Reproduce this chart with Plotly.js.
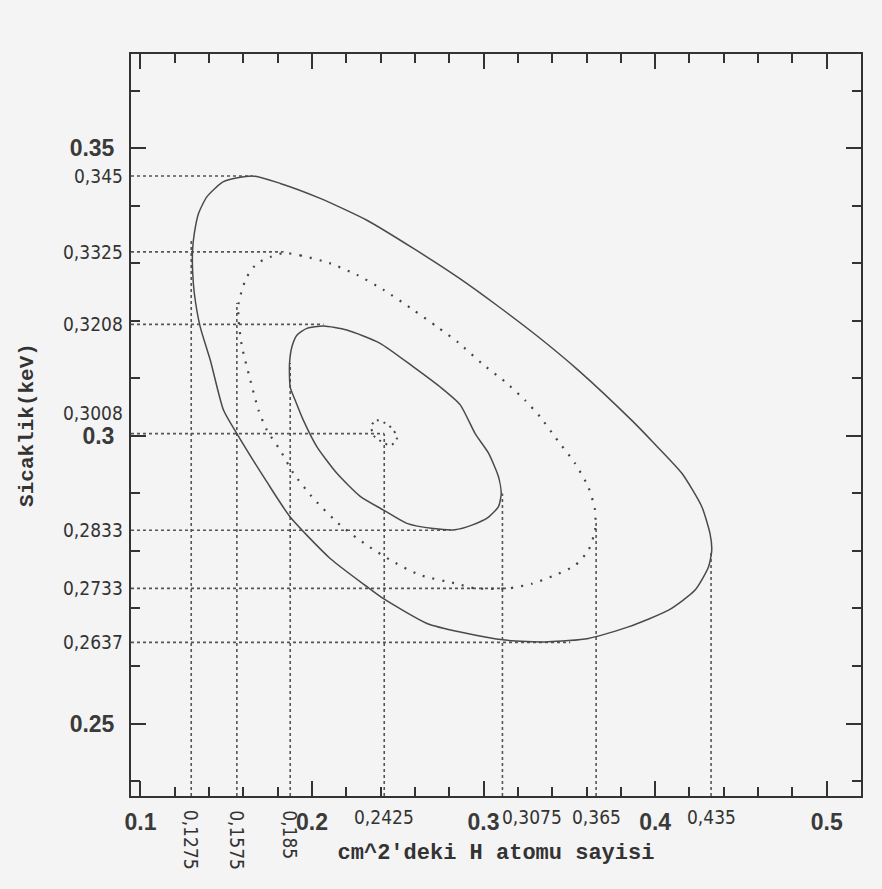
<!DOCTYPE html>
<html>
<head>
<meta charset="utf-8">
<script src="https://cdn.plot.ly/plotly-3.0.1.min.js"></script>
<style>html,body{margin:0;padding:0;background:#f4f4f4;}#chart{width:882px;height:889px;}</style>
</head>
<body>
<div id="chart"></div>
<script>
// ---- Data ----
// Outer (solid) contour
const outerX = [0.1652,0.1815,0.2048,0.2320,0.2591,0.2864,0.3087,0.3320,0.3553,0.3864,0.3988,0.4156,0.4272,0.4320,0.4330,0.4311,0.4233,0.4078,0.3844,0.3611,0.3378,0.3126,0.2864,0.2670,0.2417,0.2320,0.2106,0.1873,0.1737,0.1562,0.1484,0.1407,0.1348,0.1314,0.1304,0.1304,0.1314,0.1339,0.1388,0.1484,0.1652];
const outerY = [0.3452,0.3439,0.3413,0.3375,0.3326,0.3273,0.3225,0.3172,0.3114,0.3027,0.2989,0.2935,0.2877,0.2830,0.2801,0.2772,0.2732,0.2697,0.2668,0.2648,0.2642,0.2645,0.2659,0.2674,0.2717,0.2738,0.2787,0.2859,0.2920,0.3004,0.3045,0.3132,0.3190,0.3248,0.3288,0.3323,0.3352,0.3387,0.3416,0.3442,0.3452];
// Middle (dotted) contour
const middleX = [0.1834,0.1931,0.2106,0.2262,0.2417,0.2591,0.2728,0.2854,0.2990,0.3126,0.3242,0.3330,0.3417,0.3534,0.3611,0.3650,0.3650,0.3611,0.3534,0.3417,0.3281,0.3145,0.2951,0.2844,0.2631,0.2475,0.2320,0.2164,0.2009,0.1892,0.1815,0.1737,0.1688,0.1630,0.1592,0.1572,0.1572,0.1592,0.1621,0.1679,0.1756,0.1834];
const middleY = [0.3318,0.3314,0.3300,0.3280,0.3254,0.3219,0.3190,0.3162,0.3126,0.3094,0.3062,0.3033,0.2998,0.2952,0.2911,0.2871,0.2836,0.2801,0.2775,0.2758,0.2743,0.2735,0.2735,0.2743,0.2758,0.2781,0.2810,0.2845,0.2891,0.2935,0.2975,0.3010,0.3045,0.3109,0.3155,0.3201,0.3230,0.3254,0.3277,0.3300,0.3311,0.3318];
// Inner (solid) contour
const innerX = [0.2067,0.2203,0.2397,0.2591,0.2747,0.2864,0.2951,0.3029,0.3087,0.3103,0.3087,0.3029,0.2932,0.2834,0.2708,0.2553,0.2417,0.2281,0.2145,0.2029,0.1950,0.1902,0.1873,0.1869,0.1883,0.1912,0.1970,0.2067];
const innerY = [0.3191,0.3184,0.3161,0.3120,0.3085,0.3054,0.3004,0.2970,0.2929,0.2900,0.2877,0.2859,0.2845,0.2837,0.2839,0.2848,0.2871,0.2895,0.2935,0.2981,0.3027,0.3062,0.3085,0.3126,0.3155,0.3175,0.3187,0.3191];
// Best-fit point (small dotted ring)
const bestX = [0.2349,0.2378,0.2421,0.2466,0.2495,0.2460,0.2407,0.2359,0.2349];
const bestY = [0.3019,0.3027,0.3023,0.3013,0.2996,0.2984,0.2990,0.3001,0.3019];

// Horizontal reference lines: y value, where they end on the right, label text
const hLineY    = [0.3452,0.3320,0.3194,0.3004,0.2836,0.2735,0.2641];
const hLineEndX = [0.1652,0.1834,0.2067,0.2421,0.2806,0.3145,0.3505];
const hLineText = ['0,345','0,3325','0,3208','0,3008','0,2833','0,2733','0,2637'];
// Vertical reference lines: x value, where they end at the top, label text
const vLineX    = [0.1296,0.1562,0.1873,0.2421,0.3110,0.3656,0.4326];
const vLineEndY = [0.3341,0.3231,0.3127,0.3004,0.2900,0.2854,0.2801];
const vLineText = ['0,1275','0,1575','0,185','0,2425','0,3075','0,365','0,435'];
const vLineRot  = [true,true,true,false,false,false,false];

// Axis ranges and ticks
const xRange = [0.0945, 0.5200];
const yRange = [0.2374, 0.3664];
const xMajor = [0.1,0.2,0.3,0.4,0.5];
const yMajor = [0.25,0.3,0.35];

// ---- Build traces ----
const hx = [], hy = [];
hLineY.forEach((y,i)=>{ hx.push(xRange[0], hLineEndX[i], null); hy.push(y, y, null); });
const vx = [], vy = [];
vLineX.forEach((x,i)=>{ vx.push(x, x, null); vy.push(yRange[0], vLineEndY[i], null); });

const lineCol = '#4a4a4a';
const sm = 0.6;
const traces = [
  {x:hx, y:hy, mode:'lines', line:{color:'#555', width:1.6, dash:'dot'}, hoverinfo:'skip'},
  {x:vx, y:vy, mode:'lines', line:{color:'#555', width:1.6, dash:'dot'}, hoverinfo:'skip'},
  {x:outerX, y:outerY, mode:'lines', line:{color:lineCol, width:1.5, shape:'spline', smoothing:sm}},
  {x:middleX, y:middleY, mode:'lines', line:{color:'#444', width:2.2, dash:'2px,8px', shape:'spline', smoothing:sm}},
  {x:innerX, y:innerY, mode:'lines', line:{color:lineCol, width:1.5, shape:'spline', smoothing:sm}},
  {x:bestX, y:bestY, mode:'lines', line:{color:'#444', width:2, dash:'2px,5px', shape:'spline', smoothing:1}}
];

const labFont = {family:'"Liberation Sans Narrow", "DejaVu Sans Condensed", "Roboto Condensed", "Liberation Sans", sans-serif', size:19, color:'#333'};
const annotations = [];
hLineY.forEach((y,i)=>{
  annotations.push({xref:'paper', yref:'y', x:0, y:y, xanchor:'right', yanchor:'middle',
    xshift:-6, yshift:(hLineText[i]==='0,3008'?21:0), text:hLineText[i], showarrow:false, font:labFont});
});
vLineX.forEach((x,i)=>{
  const rot = vLineRot[i];
  annotations.push({xref:'x', yref:'paper', x:x, y:0, yanchor:'top',
    xanchor:(vLineText[i]==='0,3075'?'left':'center'), xshift:(vLineText[i]==='0,3075'?-2:0),
    yshift:rot?-12:-8, textangle:rot?90:0, text:vLineText[i], showarrow:false, font:labFont});
});

const tickFont = {family:'"Liberation Sans", Arial, sans-serif', size:23, color:'#3a3a3a', weight:'bold'};
const titleFont = {family:'"Liberation Mono", "Courier New", monospace', size:22, color:'#333', weight:'bold'};

const axisCommon = {
  showline:true, linecolor:'#333', linewidth:2, mirror:'ticks',
  ticks:'inside', ticklen:15, tickwidth:2, tickcolor:'#333',
  showgrid:false, zeroline:false, tickfont:tickFont
};

const layout = {
  width:882, height:889,
  margin:{l:131, r:21, t:54, b:93},
  paper_bgcolor:'#f4f4f4', plot_bgcolor:'#f4f4f4',
  showlegend:false,
  xaxis:Object.assign({}, axisCommon, {
    range:xRange, tickvals:xMajor, ticklabelstandoff:4,
    minor:{dtick:0.02, tick0:0.1, ticks:'inside', ticklen:9, tickwidth:2, tickcolor:'#333', showgrid:false},
    title:{text:"cm^2'deki H atomu sayisi", font:titleFont, standoff:10}
  }),
  yaxis:Object.assign({}, axisCommon, {
    range:yRange, tickvals:yMajor, ticklabelstandoff:10,
    minor:{dtick:0.01, tick0:0.25, ticks:'inside', ticklen:9, tickwidth:2, tickcolor:'#333', showgrid:false},
    title:{text:'Sicaklik(keV)', font:Object.assign({}, titleFont, {size:21}), standoff:30}
  }),
  annotations:annotations
};

Plotly.newPlot('chart', traces, layout, {displayModeBar:false, staticPlot:true});
</script>
</body>
</html>
